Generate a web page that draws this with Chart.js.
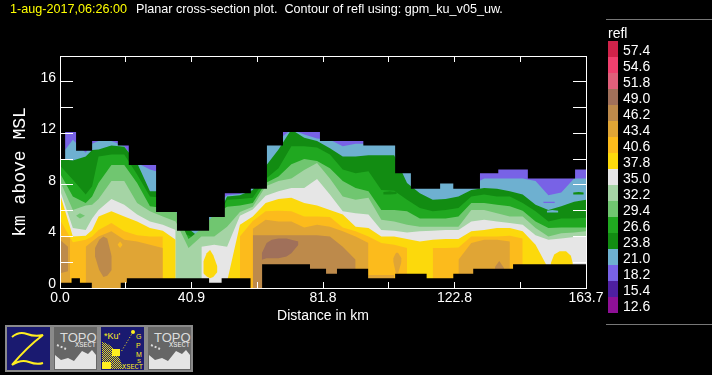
<!DOCTYPE html>
<html>
<head>
<meta charset="utf-8">
<script src="https://cdn.jsdelivr.net/npm/chart.js@4/dist/chart.umd.min.js"></script>
<style>
  html, body { margin: 0; padding: 0; background: #000; }
  #wrap { position: relative; width: 712px; height: 375px; overflow: hidden; background: #000; }
  #plot { position: absolute; left: 0; top: 0; }
  .title { position: absolute; top: 2px; font: 12.6px "Liberation Sans"; white-space: pre; }
  #colorbar { position: absolute; left: 608px; top: 41px; }
  .swatch { position: absolute; left: 0; width: 10px; height: 16px; }
  .swlab { position: absolute; left: 15px; margin-top: 1px; font: 14px "Liberation Sans"; color: #fff; line-height: 16px; }
  #barname { position: absolute; left: 608px; top: 25px; font: 14px "Liberation Sans"; color: #fff; }
  .barline { position: absolute; left: 606px; width: 106px; height: 1px; background: #777; }
  .icon { position: absolute; top: 325px; }
</style>
</head>
<body>
<div id="wrap">
  <canvas id="plot" width="712" height="375"></canvas>
  <div class="title" style="left:10px;color:#ffff00">1-aug-2017,06:26:00</div>
  <div class="title" style="left:136px;color:#fff">Planar cross-section plot.  Contour of refl using: gpm_ku_v05_uw.</div>
  <div class="barline" style="top:19px"></div>
  <div class="barline" style="top:324px"></div>
  <div id="barname">refl</div>
  <div id="colorbar"></div>

  <svg class="icon" style="left:5px" width="47" height="47">
    <rect x="1" y="1" width="45" height="45" fill="#1a1a70" stroke="#8a8a8a" stroke-width="2"/>
    <path d="M7 12 Q14 6 22 9 T38 10 Q22 22 7 40 Q16 34 24 37 T38 38" fill="none" stroke="#ffee20" stroke-width="2"/>
  </svg>
  <svg class="icon" style="left:52px" width="47" height="47">
    <rect x="1" y="1" width="45" height="45" fill="#666" stroke="#8a8a8a" stroke-width="2"/>
    <text x="8" y="17" font-family="Liberation Sans" font-size="13" fill="#ddd">TOPO</text>
    <text x="23" y="22" font-family="Liberation Mono" font-size="7" fill="#eee">XSECT</text>
    <path d="M3 44 V30 L9 35 L16 33 L22 36 L30 26 L36 29 L40 25 L44 30 V44 Z" fill="#e4e4e4"/>
    <path d="M5 20 L14 24" stroke="#ddd" stroke-width="2" stroke-dasharray="2 2"/>
  </svg>
  <svg class="icon" style="left:99px" width="47" height="47">
    <defs>
      <pattern id="chk" width="2" height="2" patternUnits="userSpaceOnUse">
        <rect width="1" height="1" fill="#e8dc20"/><rect x="1" y="1" width="1" height="1" fill="#e8dc20"/>
      </pattern>
    </defs>
    <rect x="1" y="1" width="45" height="45" fill="#1a1a70" stroke="#8a8a8a" stroke-width="2"/>
    <text x="5" y="14" font-family="Liberation Sans" font-size="9" fill="#ffee20">*Ku'</text>
    <text x="37" y="14" font-family="Liberation Sans" font-size="7" fill="#ffee20">G</text>
    <text x="37" y="23" font-family="Liberation Sans" font-size="7" fill="#ffee20">P</text>
    <text x="37" y="32" font-family="Liberation Sans" font-size="7" fill="#ffee20">M</text>
    <text x="38" y="38" font-family="Liberation Sans" font-size="6" fill="#ffee20">S</text>
    <path d="M3 17 Q18 20 24 44 H3 Z" fill="url(#chk)"/>
    <path d="M3 37 H12 V44 H3 Z M13 24 H21 V31 H13 Z" fill="#ffee20"/>
    <path d="M34 7 L22 27" stroke="#ffee20" stroke-width="1" stroke-dasharray="1 2"/>
    <circle cx="34" cy="7" r="2" fill="#ffee20"/>
    <text x="23" y="44" font-family="Liberation Mono" font-size="7" fill="#ffee20">XSECT</text>
  </svg>
  <svg class="icon" style="left:146px" width="47" height="47">
    <rect x="1" y="1" width="45" height="45" fill="#666" stroke="#8a8a8a" stroke-width="2"/>
    <text x="8" y="17" font-family="Liberation Sans" font-size="13" fill="#ddd">TOPO</text>
    <text x="23" y="22" font-family="Liberation Mono" font-size="7" fill="#eee">XSECT</text>
    <path d="M3 44 V30 L9 35 L16 33 L22 36 L30 26 L36 29 L40 25 L44 30 V44 Z" fill="#e4e4e4"/>
    <path d="M5 20 L14 24" stroke="#ddd" stroke-width="2" stroke-dasharray="2 2"/>
  </svg>
</div>
<script>
// colour bar
const legendLabels = ['57.4','54.6','51.8','49.0','46.2','43.4','40.6','37.8','35.0','32.2','29.4','26.6','23.8','21.0','18.2','15.4','12.6'];
const legendColors = ['#d0234a','#f0406e','#e0607a','#a0705a','#bd8a4b','#e0a535','#fcbb1c','#fcd90c','#e6e6e6','#a5d4a5','#70c670','#20a820','#128c12','#6eb0d0','#7862e6','#4e1fa0','#8e1096'];

// axis ticks
const xTickValues = [0,20.46,40.92,61.39,81.85,102.31,122.78,143.24,163.7];
const xTickLabels = ['0.0','','40.9','','81.8','','122.8','','163.7'];
const yLabelled = [0,4,8,12,16];

// column positions, km
const dist = [0,4,8,10,12,16,20,24,28,32,36,40,44,48,52,56,60,64,68,72,76,80,84,88,92,96,100,104,108,112,116,120,124,128,132,136,140,144,148,152,156,160,163.7];

// height (km) of the top of each contour band at each column
const top182 = [18,18,18,18,18,18,18,18,18,18,18,18,18,18,18,18,18,18,18,18,18,18,18,18,18,18,18,18,18,18,18,18,18,18,18,18,18,18,18,18,18,18,18];
const top210 = [10.2,11.5,10.5,11.2,11.4,11.4,11,9.7,9.2,8.9,6.3,6.3,6.3,6.3,7.2,7.3,7.9,11.5,11.5,12.3,11.9,11.6,11.5,11,11.2,11.2,11.2,11.2,9.4,8.1,8.1,8.4,8.1,8.0,8.5,8.5,8.5,8.5,8.3,7.2,7.4,8.5,8.5];
const top238 = [10,9.9,10.2,10.7,10.75,11.05,10.95,9.7,7.5,7.5,4.3,4.6,3.8,5,7.1,7.2,7.6,9.45,10.75,12.3,11.65,11.4,10.85,10.2,10.2,10.3,10.3,10.3,8.15,7.35,6.85,6.9,7.1,7.6,7.75,7.7,7.5,7.25,6.45,6.05,6.35,6.7,6.85];
const top266 = [9.5,8.4,7.25,7.9,10.2,10.35,10.35,8.8,7.1,7,4.2,4.1,3.5,5,6.85,6.9,7,8.45,9.3,11,11,10.9,10.35,9.2,8.9,9.05,7.6,7.55,6.85,6.2,5.95,6.05,6.2,7.1,7.25,7.1,7.1,6.6,5.95,5.15,5.4,5.4,5.45];
const top294 = [8.9,7.1,6.6,7.1,8.15,9.55,9.55,8.15,6.35,6.2,6,3.8,4.6,5.7,6.3,6.4,6.6,8.15,8.65,9.6,10,9.85,9.3,8.3,7.75,7.5,6.05,6.05,5.95,5.4,5.4,5.4,5.55,6.6,6.6,6.45,6.35,6,5.15,4.65,4.7,4.7,4.7];
const top322 = [8.3,6.05,6.4,6.45,6.9,8.3,8.3,6.6,5.95,5.55,5.15,3.1,4,4,4.75,5.9,6.3,7.9,8.3,8.5,9.15,9.7,8.5,7.1,6.85,7,5.3,5.15,4.9,4.75,4.75,4.75,4.75,6.05,6.05,5.8,5.55,5.55,4.65,4,4.25,4.3,4.4];
const top350 = [7.6,4.65,4.5,5.4,6.05,6.9,6.45,5.7,5.15,4.9,4.5,null,3.2,3.35,3.2,5.6,6.1,7.15,7.5,7.75,7.75,8.45,7.25,5.95,5.8,5.7,4.5,4.45,4.3,4.4,4.45,4.5,4.5,5.15,5.3,5.15,5.05,4.9,4.1,3.75,3.85,3.95,4];
const top378 = [7.3,4,4.05,4.5,5.55,5.95,5.55,5.15,4.65,4.45,3.75,null,null,null,0.5,4.9,5.55,6.6,6.9,7,6.6,6.4,6.05,5.7,4.75,4.65,4,4,3.8,3.6,3.75,3.8,3.8,4.4,4.5,4.65,4.65,4.4,3.35,1.5,null,null,null];
const top406 = [5.3,3.55,3.75,4,4.5,5.05,4.4,4.1,4,4,null,null,null,null,null,4,5.2,5.95,6,5.95,5.55,5.55,5.5,4.7,4.4,4,3.5,3.35,3.1,null,3.1,3.1,3.15,4,4,4,4.05,3.85,null,null,null,null,null];
const top434 = [null,null,3.2,3.6,4,4.4,3.75,3.6,3.35,3.1,null,null,null,null,null,null,4.6,5.3,5.15,5.15,4.7,4.9,4.75,4.4,4,3.5,null,null,null,null,null,null,2.2,3.5,3.75,3.75,3.6,null,null,null,null,null,null];
const top462 = [null,null,null,null,null,null,null,null,null,null,null,null,null,null,null,null,4.1,4.1,4.1,4.1,4.1,4.1,4,3.2,2.2,null,null,null,null,null,null,null,null,null,null,null,null,null,null,null,null,null,null];

// closed patches inside the bands
const leftTanX = [0,3.1], leftTanTop = [4,3.9], leftTanBot = [0,0];
const leftBrownX = [0,2.5], leftBrownTop = [3.75,3.2], leftBrownBot = [1.15,1.3];
const brownAX = [10.9,12.2,13.5,14.7,16.1], brownATop = [3.1,3.75,4,3.85,2.45], brownABot = [2.45,1.4,0.85,0.95,1.4];
const orangeDotX = [17.9,18.7,19.5], orangeDotTop = [3.35,3.6,3.35], orangeDotBot = [3.35,3.1,3.35];
const yellowBlobX = [44.6,45.65,46.7,47.7,49], yellowBlobTop = [2.05,2.7,2.95,2.55,1.65], yellowBlobBot = [1.15,0.9,0.75,0.85,1.25];
const yellowRightX = [152.7,153.8,155.5,157.5,159,159.6], yellowRightTop = [1.9,2.6,2.85,2.85,2.5,1.9], yellowRightBot = [1.7,1.7,1.7,1.7,1.7,1.7];
const greenDotX = [5,6.2,7.8], greenDotTop = [5.6,5.8,5.6], greenDotBot = [5.6,5.4,5.6];
const maxCoreX = [62.8,64.3,65.9,68,70.5,72,74.2], maxCoreTop = [2.7,3.5,3.75,3.85,3.85,3.75,3.6], maxCoreBot = [2.2,2.3,2.3,2.3,2.45,2.7,3.35];
const tanStemX = [103.7,104.5,104.9,105.3,106.3], tanStemTop = [2.3,2.7,2.75,2.7,2.3], tanStemBot = [2.05,1.2,1.1,1.2,2.05];
const tanStripX = [95.9,104], tanStripTop = [1,1], tanStripBot = [0.7,0.7];
const brownDotX = [135.4,136.7,138.2], brownDotTop = [1.65,2.1,1.55], brownDotBot = [1.4,1.4,1.4];
const purpleLineX = [150.4,152.2,154], purpleLineTop = [6.7,6.7,6.7], purpleLineBot = [6.6,6.6,6.6];
const blueLineX = [151.5,153.2,155.1], blueLineTop = [6,6.05,6], blueLineBot = [5.85,5.85,5.85];
const darkLineX = [159.7,161.4,163], darkLineTop = [7.4,7.45,7.4], darkLineBot = [7.25,7.25,7.25];
const darkStripX = [100.6,102.7,104.8], darkStripTop = [7.45,7.5,7.45], darkStripBot = [7.25,7.25,7.3];

// echo top and terrain, each value holds until the next x
const echoTopX = [0,1.6,5,10,18,21.4,29.9,36.4,46.4,51.3,59.4,64.4,69.4,80.9,94.4,104.3,109.2,118.3,122.4,130.7,136.4,145.6,160.3,163.7];
const echoTop = [10,12.1,10.65,11.4,11.05,9.55,5.9,4.45,5.5,7.35,7.7,11.05,12.1,11.4,11.05,8.9,7.7,8.1,7.7,8.9,9.2,8.5,9.2,9.2];
const groundX = [0,3.6,6.2,9.9,18.9,20.8,46.4,50.3,59.3,62.9,77.8,82.8,86.2,95.9,104.3,114.1,122.4,128.6,141,163.7];
const ground = [0.4,0.75,0.4,0,0.4,0.75,0.4,0.75,0,1.85,1.5,1.1,1.5,0.75,1.1,0.75,1.1,1.5,1.85,1.85];

function col(label) {
    return legendColors[legendLabels.indexOf(label)];
}

function pts(xs, ys) {
    return xs.map((x, i) => ({ x: x, y: ys[i] }));
}

const datasets = [];

function addBand(label, tops) {
    datasets.push({ data: pts(dist, tops), backgroundColor: col(label), fill: 'origin' });
}

function addPatch(label, xs, tops, bots) {
    datasets.push({ data: pts(xs, tops), backgroundColor: col(label), fill: '+1' });
    datasets.push({ data: pts(xs, bots), fill: false });
}

addBand('18.2', top182);
addBand('21.0', top210);
addBand('23.8', top238);
addBand('26.6', top266);
addBand('29.4', top294);
addBand('32.2', top322);
addBand('35.0', top350);
addBand('37.8', top378);
addBand('40.6', top406);
addBand('43.4', top434);
addBand('46.2', top462);

addPatch('43.4', leftTanX, leftTanTop, leftTanBot);
addPatch('46.2', leftBrownX, leftBrownTop, leftBrownBot);
addPatch('46.2', brownAX, brownATop, brownABot);
addPatch('40.6', orangeDotX, orangeDotTop, orangeDotBot);
addPatch('37.8', yellowBlobX, yellowBlobTop, yellowBlobBot);
addPatch('37.8', yellowRightX, yellowRightTop, yellowRightBot);
addPatch('29.4', greenDotX, greenDotTop, greenDotBot);
addPatch('49.0', maxCoreX, maxCoreTop, maxCoreBot);
addPatch('43.4', tanStemX, tanStemTop, tanStemBot);
addPatch('43.4', tanStripX, tanStripTop, tanStripBot);
addPatch('46.2', brownDotX, brownDotTop, brownDotBot);
addPatch('18.2', purpleLineX, purpleLineTop, purpleLineBot);
addPatch('21.0', blueLineX, blueLineTop, blueLineBot);
addPatch('23.8', darkLineX, darkLineTop, darkLineBot);
addPatch('23.8', darkStripX, darkStripTop, darkStripBot);

// black above the echo top and below the terrain
datasets.push({ data: pts(echoTopX, echoTop), stepped: true, backgroundColor: '#000', fill: { value: 18 } });
datasets.push({ data: pts(groundX, ground), stepped: true, backgroundColor: '#000', fill: 'origin' });

// first pushed is painted first
datasets.forEach((d, i) => {
    d.order = datasets.length - i;
    d.pointRadius = 0;
    d.borderWidth = 0;
    d.spanGaps = false;
});

const axisFont = { family: 'Liberation Sans', size: 14 };

function xTicksOnly(scale) {
    scale.ticks = xTickValues.map(v => ({ value: v }));
}

const chart = new Chart(document.getElementById('plot'), {
    type: 'line',
    data: { datasets: datasets },
    options: {
        responsive: false,
        animation: false,
        devicePixelRatio: 1,
        layout: { padding: { left: 0, top: 56, right: 126, bottom: 50 } },
        plugins: { legend: { display: false }, tooltip: { enabled: false } },
        scales: {
            x: {
                type: 'linear', position: 'bottom', min: 0, max: 163.7,
                afterBuildTicks: xTicksOnly,
                afterFit: s => { s.height = 37; },
                border: { color: '#fff', z: 2 },
                grid: { drawOnChartArea: false, tickLength: -6, tickColor: '#fff', z: 2 },
                ticks: {
                    color: '#fff', font: axisFont, padding: 8, maxRotation: 0, autoSkip: false,
                    callback: (v, i) => xTickLabels[i]
                },
                title: { display: true, text: 'Distance in km', color: '#fff', font: { family: 'Liberation Sans', size: 14 }, padding: 0 }
            },
            xTop: {
                type: 'linear', position: 'top', min: 0, max: 163.7,
                afterBuildTicks: xTicksOnly,
                afterFit: s => { s.height = 0; },
                border: { color: '#fff', z: 2 },
                grid: { drawOnChartArea: false, tickLength: -6, tickColor: '#fff', z: 2 },
                ticks: { display: false }
            },
            y: {
                type: 'linear', position: 'left', min: 0, max: 18,
                afterFit: s => { s.width = 60; },
                border: { color: '#fff', z: 2 },
                grid: { drawOnChartArea: false, tickLength: -13, tickColor: '#fff', z: 2 },
                ticks: {
                    stepSize: 2, color: '#fff', font: axisFont, padding: 17, labelOffset: -4, autoSkip: false,
                    callback: v => yLabelled.includes(v) ? String(v) : ''
                },
                title: { display: true, text: 'km above MSL', color: '#fff', font: { family: 'Liberation Mono', size: 18 }, padding: { top: 9, bottom: 0 } }
            },
            yRight: {
                type: 'linear', position: 'right', min: 0, max: 18,
                afterFit: s => { s.width = 0; },
                border: { color: '#fff', z: 2 },
                grid: { drawOnChartArea: false, tickLength: -13, tickColor: '#fff', z: 2 },
                ticks: { stepSize: 2, display: false }
            }
        }
    }
});

// colour bar swatches and labels
const bar = document.getElementById('colorbar');
legendLabels.forEach((lab, i) => {
    const sw = document.createElement('div');
    sw.className = 'swatch';
    sw.style.top = (i * 16) + 'px';
    sw.style.background = legendColors[i];
    bar.appendChild(sw);
    const tx = document.createElement('div');
    tx.className = 'swlab';
    tx.style.top = (i * 16) + 'px';
    tx.textContent = lab;
    bar.appendChild(tx);
});
</script>
</body>
</html>
